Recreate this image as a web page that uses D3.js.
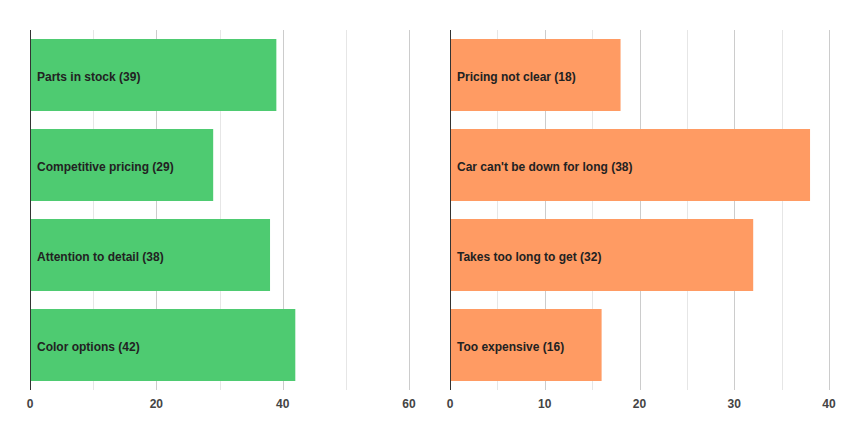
<!DOCTYPE html>
<html><head><meta charset="utf-8">
<script src="https://cdn.jsdelivr.net/npm/d3@7"></script>
<style>body{margin:0;background:#fff}svg{display:block}text{font-family:"Liberation Sans",Arial,sans-serif}</style>
</head><body>
<svg id="c" width="860" height="440"></svg>
<script>
const leftCategories = ["Parts in stock", "Competitive pricing", "Attention to detail", "Color options"];
const leftValues = [39, 29, 38, 42];
const rightCategories = ["Pricing not clear", "Car can't be down for long", "Takes too long to get", "Too expensive"];
const rightValues = [18, 38, 32, 16];
const leftTicks = [0, 20, 40, 60];
const leftMinor = [10, 30, 50];
const rightTicks = [0, 10, 20, 30, 40];
const rightMinor = [5, 15, 25, 35];

const svg = d3.select("#c");
const y0 = 30, y1 = 390;

function panel(cats, vals, domainMax, x0, x1, ticks, minor, color) {
  const x = d3.scaleLinear().domain([0, domainMax]).range([x0, x1]);
  const y = d3.scaleBand().domain(cats).range([y0, y1]).paddingInner(0.2).paddingOuter(0.1);
  const g = svg.append("g");
  g.selectAll("line.minor").data(minor).join("line")
    .attr("x1", d => Math.round(x(d)) + 0.5).attr("x2", d => Math.round(x(d)) + 0.5)
    .attr("y1", y0).attr("y2", y1).attr("stroke", "#e6e6e6");
  g.selectAll("line.major").data(ticks.filter(d => d !== 0)).join("line")
    .attr("x1", d => Math.round(x(d)) + 0.5).attr("x2", d => Math.round(x(d)) + 0.5)
    .attr("y1", y0).attr("y2", y1).attr("stroke", "#cccccc");
  const data = cats.map((c, i) => ({c, v: vals[i]}));
  g.selectAll("rect").data(data).join("rect")
    .attr("x", x(0)).attr("y", d => y(d.c))
    .attr("width", d => x(d.v) - x(0)).attr("height", y.bandwidth())
    .attr("fill", color);
  g.selectAll("text.lab").data(data).join("text")
    .attr("x", x(0) + 7).attr("y", d => y(d.c) + y.bandwidth() / 2 + 1.5)
    .attr("dy", "0.35em").attr("font-size", 12).attr("font-weight", "bold")
    .attr("fill", "#222").text(d => `${d.c} (${d.v})`);
  g.append("line").attr("x1", Math.round(x(0)) + 0.5).attr("x2", Math.round(x(0)) + 0.5)
    .attr("y1", y0).attr("y2", y1).attr("stroke", "#333");
  g.selectAll("text.tick").data(ticks).join("text")
    .attr("x", d => x(d)).attr("y", 408).attr("text-anchor", "middle")
    .attr("font-size", 12).attr("font-weight", "bold").attr("fill", "#444").text(d => d);
}
panel(leftCategories, leftValues, 60, 30, 409, leftTicks, leftMinor, "#4ecb71");
panel(rightCategories, rightValues, 40, 450, 829, rightTicks, rightMinor, "#ff9b63");
</script>
</body></html>
